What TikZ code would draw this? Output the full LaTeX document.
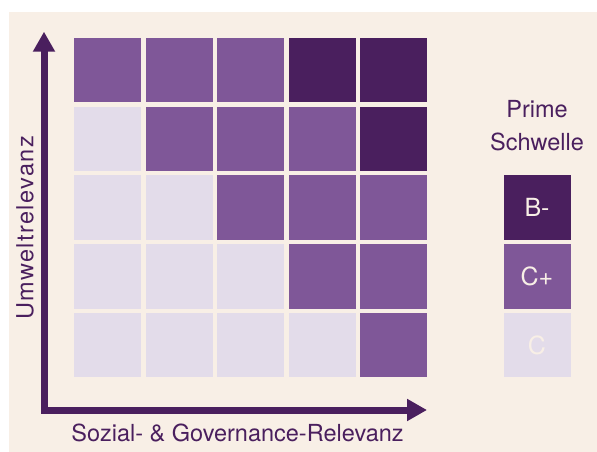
\documentclass[tikz,border=0pt]{standalone}
\usepackage{fontspec}
\setmainfont{TeX Gyre Heros}
\newfontfamily\spacedfont[LetterSpace=6]{TeX Gyre Heros}
\usepackage{tikz}
\usetikzlibrary{arrows.meta}
\definecolor{PrimeDark}{RGB}{74,31,94}
\definecolor{PrimeMid}{RGB}{127,87,152}
\definecolor{PrimeLight}{RGB}{227,220,234}
\definecolor{PrimeBack}{RGB}{248,239,230}

\begin{document}
\begin{tikzpicture}[x=1pt,y=-1pt,cell/.style={fill=#1,minimum width=67pt,minimum height=64.5pt,inner sep=0pt,rectangle},lbl/.style={text=PrimeDark,font=\fontsize{23.5}{28}\selectfont,inner sep=0pt},axis/.style={draw=PrimeDark,line width=7pt,line join=miter,{Triangle[width=21pt,length=20pt]}-{Triangle[width=21pt,length=20pt]}}]
    \useasboundingbox (0,0) rectangle (597,452);
    \fill[PrimeBack] (9,12) rectangle (597,452);
    \foreach \y/\a/\b/\c/\d/\e in %
    {0/Mid/Mid/Mid/Dark/Dark,1/Light/Mid/Mid/Mid/Dark,2/Light/Light/Mid/Mid/Mid,3/Light/Light/Light/Mid/Mid,4/Light/Light/Light/Light/Mid} {
       \foreach \x/\1 in {0/\a,1/\b,2/\c,3/\d,4/\e} {
          \node[cell=Prime\1] (c\y\x) at (107.5+71.5*\x,70+68.8*\y) {};
       }
    }
    \coordinate (ytip) at (44,31.7);
    \coordinate (origin) at (44,410);
    \coordinate (xtip) at (427,410);
    \draw[axis] (ytip) -- (origin) -- (xtip);
    \node[lbl,anchor=base] (xlabel) at (237.5,441.7) {Sozial- \& Governance-Relevanz};
    \node[lbl,anchor=base,rotate=90] (ylabel) at (33.3,228) {\spacedfont\fontsize{23.5}{28}\selectfont Umweltrelevanz};
    \node[lbl,anchor=base] (prime) at (537,117.7) {Prime};
    \node[lbl,anchor=base] (schwelle) at (537,150.7) {Schwelle};
    \foreach \y/\1/\2 in %
    {2/Dark/B-,3/Mid/C+,4/Light/C} {
       \node[cell=Prime\1,text=PrimeBack,font=\fontsize{25}{30}\selectfont] (g\y) at (537,70+68.8*\y) {\2};
    }
\end{tikzpicture}
\end{document}
